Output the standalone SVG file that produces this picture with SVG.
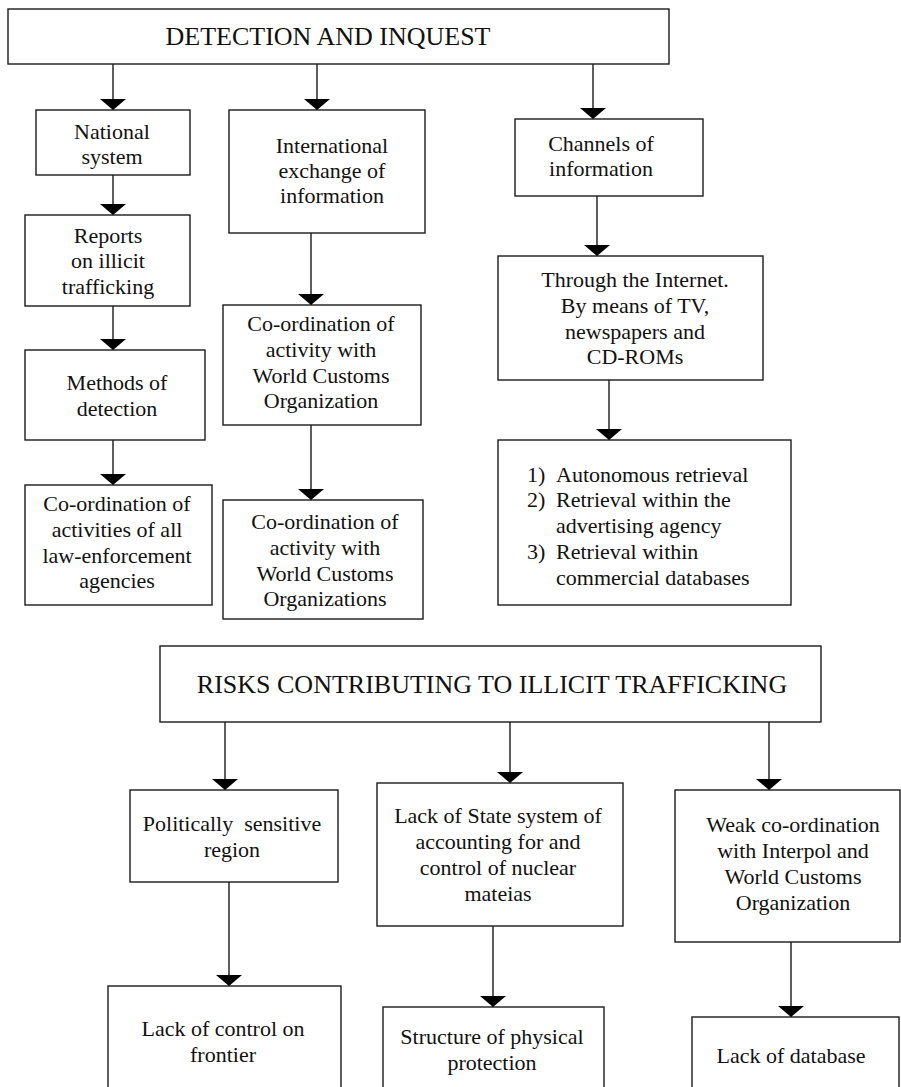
<svg xmlns="http://www.w3.org/2000/svg" width="901" height="1087" viewBox="0 0 901 1087">
  <style>
    .box { fill: #ffffff; stroke: #1a1a1a; stroke-width: 1.4; }
    .lbl { font-family: "Liberation Serif", "Times New Roman", serif; font-size: 22px; fill: #111; text-anchor: middle; }
    .ttl { font-family: "Liberation Serif", "Times New Roman", serif; font-size: 26px; fill: #111; text-anchor: middle; }
    .lst { font-family: "Liberation Serif", "Times New Roman", serif; font-size: 22px; fill: #111; }
    .edge { stroke: #1a1a1a; stroke-width: 1.4; fill: none; marker-end: url(#head); }
  </style>
  <defs>
    <marker id="head" viewBox="0 -13 12 26" markerWidth="12" markerHeight="26" refX="11" refY="0" orient="auto" markerUnits="userSpaceOnUse">
      <path d="M0,-13 L11,0 L0,13 z" fill="#000"/>
    </marker>
  </defs>
  <rect width="901" height="1087" fill="#ffffff"/>

  <!-- connectors -->
  <g id="connectors">
    <line class="edge" x1="113" y1="64" x2="113" y2="110"/>
    <line class="edge" x1="317" y1="64" x2="317" y2="110"/>
    <line class="edge" x1="593" y1="64" x2="593" y2="119"/>
    <line class="edge" x1="113" y1="175" x2="113" y2="215"/>
    <line class="edge" x1="113" y1="306" x2="113" y2="350"/>
    <line class="edge" x1="113" y1="440" x2="113" y2="485"/>
    <line class="edge" x1="311" y1="233" x2="311" y2="305"/>
    <line class="edge" x1="311" y1="425" x2="311" y2="500"/>
    <line class="edge" x1="597" y1="196" x2="597" y2="256"/>
    <line class="edge" x1="609" y1="380" x2="609" y2="440"/>
    <line class="edge" x1="225" y1="722" x2="225" y2="790"/>
    <line class="edge" x1="510" y1="722" x2="510" y2="783"/>
    <line class="edge" x1="769" y1="722" x2="769" y2="790"/>
    <line class="edge" x1="229" y1="882" x2="229" y2="986"/>
    <line class="edge" x1="493" y1="926" x2="493" y2="1007"/>
    <line class="edge" x1="791" y1="942" x2="791" y2="1017"/>
  </g>

  <!-- upper chart -->
  <g id="detection">
    <rect class="box" x="8" y="9" width="661" height="55"/>
    <text class="ttl" x="328" y="45">DETECTION AND INQUEST</text>
  </g>
  <g id="national">
    <rect class="box" x="36" y="110" width="154" height="65"/>
    <text class="lbl" x="112" y="139">National</text>
    <text class="lbl" x="112" y="164">system</text>
  </g>
  <g id="international">
    <rect class="box" x="229" y="110" width="196" height="123"/>
    <text class="lbl" x="332" y="153">International</text>
    <text class="lbl" x="332" y="178">exchange of</text>
    <text class="lbl" x="332" y="203">information</text>
  </g>
  <g id="channels">
    <rect class="box" x="515" y="119" width="188" height="77"/>
    <text class="lbl" x="601" y="151">Channels of</text>
    <text class="lbl" x="601" y="176">information</text>
  </g>
  <g id="reports">
    <rect class="box" x="25" y="215" width="165" height="91"/>
    <text class="lbl" x="108" y="243">Reports</text>
    <text class="lbl" x="108" y="268">on illicit</text>
    <text class="lbl" x="108" y="294">trafficking</text>
  </g>
  <g id="methods">
    <rect class="box" x="25" y="350" width="180" height="90"/>
    <text class="lbl" x="117" y="390">Methods of</text>
    <text class="lbl" x="117" y="416">detection</text>
  </g>
  <g id="coord-agencies">
    <rect class="box" x="25" y="485" width="187" height="120"/>
    <text class="lbl" x="117" y="511">Co-ordination of</text>
    <text class="lbl" x="117" y="537">activities of all</text>
    <text class="lbl" x="117" y="563">law-enforcement</text>
    <text class="lbl" x="117" y="588">agencies</text>
  </g>
  <g id="coord-wco">
    <rect class="box" x="223" y="305" width="198" height="120"/>
    <text class="lbl" x="321" y="331">Co-ordination of</text>
    <text class="lbl" x="321" y="357">activity with</text>
    <text class="lbl" x="321" y="383">World Customs</text>
    <text class="lbl" x="321" y="408">Organization</text>
  </g>
  <g id="coord-wcos">
    <rect class="box" x="223" y="500" width="200" height="119"/>
    <text class="lbl" x="325" y="529">Co-ordination of</text>
    <text class="lbl" x="325" y="555">activity with</text>
    <text class="lbl" x="325" y="581">World Customs</text>
    <text class="lbl" x="325" y="606">Organizations</text>
  </g>
  <g id="internet">
    <rect class="box" x="498" y="256" width="265" height="124"/>
    <text class="lbl" x="635" y="287">Through the Internet.</text>
    <text class="lbl" x="635" y="313">By means of TV,</text>
    <text class="lbl" x="635" y="339">newspapers and</text>
    <text class="lbl" x="635" y="364">CD-ROMs</text>
  </g>
  <g id="retrieval">
    <rect class="box" x="498" y="440" width="293" height="165"/>
    <text class="lst" x="527" y="482">1)</text>
    <text class="lst" x="556" y="482">Autonomous retrieval</text>
    <text class="lst" x="527" y="507">2)</text>
    <text class="lst" x="556" y="507">Retrieval within the</text>
    <text class="lst" x="556" y="533">advertising agency</text>
    <text class="lst" x="527" y="559">3)</text>
    <text class="lst" x="556" y="559">Retrieval within</text>
    <text class="lst" x="556" y="585">commercial databases</text>
  </g>

  <!-- lower chart -->
  <g id="risks">
    <rect class="box" x="160" y="646" width="661" height="76"/>
    <text class="ttl" x="492" y="693">RISKS CONTRIBUTING TO ILLICIT TRAFFICKING</text>
  </g>
  <g id="political">
    <rect class="box" x="130" y="790" width="208" height="92"/>
    <text class="lbl" x="232" y="831" xml:space="preserve">Politically  sensitive</text>
    <text class="lbl" x="232" y="857">region</text>
  </g>
  <g id="state-system">
    <rect class="box" x="377" y="783" width="246" height="143"/>
    <text class="lbl" x="498" y="823">Lack of State system of</text>
    <text class="lbl" x="498" y="849">accounting for and</text>
    <text class="lbl" x="498" y="875">control of nuclear</text>
    <text class="lbl" x="498" y="901">mateias</text>
  </g>
  <g id="weak-coord">
    <rect class="box" x="675" y="790" width="225" height="152"/>
    <text class="lbl" x="793" y="832">Weak co-ordination</text>
    <text class="lbl" x="793" y="858">with Interpol and</text>
    <text class="lbl" x="793" y="884">World Customs</text>
    <text class="lbl" x="793" y="910">Organization</text>
  </g>
  <g id="frontier">
    <rect class="box" x="108" y="986" width="233" height="130"/>
    <text class="lbl" x="223" y="1036">Lack of control on</text>
    <text class="lbl" x="223" y="1062">frontier</text>
  </g>
  <g id="protection">
    <rect class="box" x="383" y="1007" width="221" height="110"/>
    <text class="lbl" x="492" y="1044">Structure of physical</text>
    <text class="lbl" x="492" y="1070">protection</text>
  </g>
  <g id="database">
    <rect class="box" x="692" y="1017" width="207" height="100"/>
    <text class="lbl" x="791" y="1063">Lack of database</text>
  </g>
</svg>
